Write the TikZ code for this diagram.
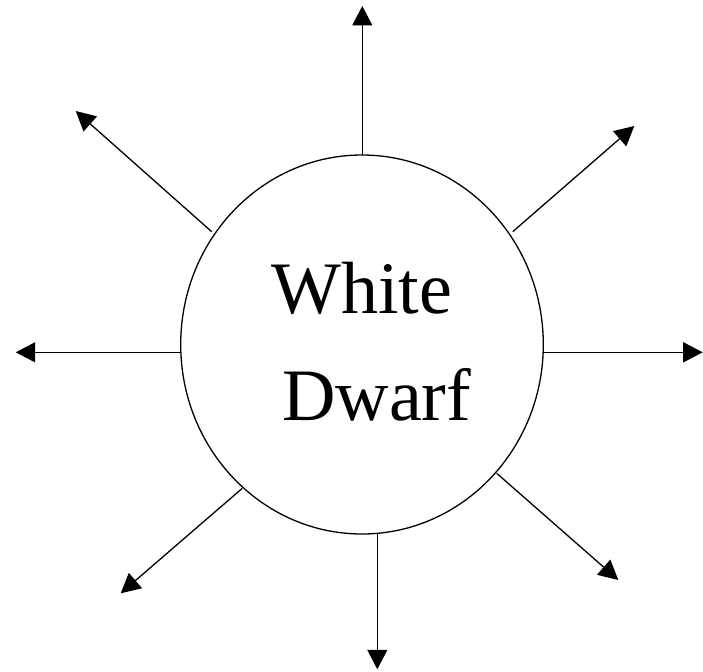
\documentclass[tikz,border=0pt]{standalone}
\usepackage{fontspec}
\setmainfont{Liberation Serif}
\usetikzlibrary{arrows.meta,shapes.geometric}
\tikzset{
  ray/.style={line width=1.3pt,-{Triangle[length=19.5pt,width=20pt]}},
  star/.style={draw,line width=1.3pt,ellipse,inner sep=0pt,minimum width=362.6pt,minimum height=379pt},
  lbl/.style={inner sep=0pt,anchor=base west,font=\fontsize{74}{80}\selectfont}
}
\begin{document}
\begin{tikzpicture}[x=1pt,y=-1pt]
\useasboundingbox (0,0) rectangle (703,671);
\node[star] (wd) at (362,344.5) {};
\node[lbl] (white) at (271,313.3) {White};
\node[lbl] (dwarf) at (282,420) {Dwarf};
% start points on the circle
\coordinate (sN) at (362.3,155.3);
\coordinate (sS) at (377.3,534);
\coordinate (sW) at (180.7,352.3);
\coordinate (sE) at (543.3,352.3);
\coordinate (sNW) at (211.7,231.7);
\coordinate (sNE) at (512.7,231.7);
\coordinate (sSW) at (242.3,488.3);
\coordinate (sSE) at (496.7,473.3);
% tips
\coordinate (tN) at (362.3,6);
\coordinate (tS) at (377.3,669.3);
\coordinate (tW) at (15.7,352.3);
\coordinate (tE) at (702.7,352.3);
\coordinate (tNW) at (75.7,111);
\coordinate (tNE) at (634.3,126);
\coordinate (tSW) at (120.7,593.3);
\coordinate (tSE) at (618.3,580);
\foreach \d in {N,S,W,E,NW,NE,SW,SE}{
  \draw[ray] (s\d) -- (t\d);
}
\end{tikzpicture}
\end{document}
